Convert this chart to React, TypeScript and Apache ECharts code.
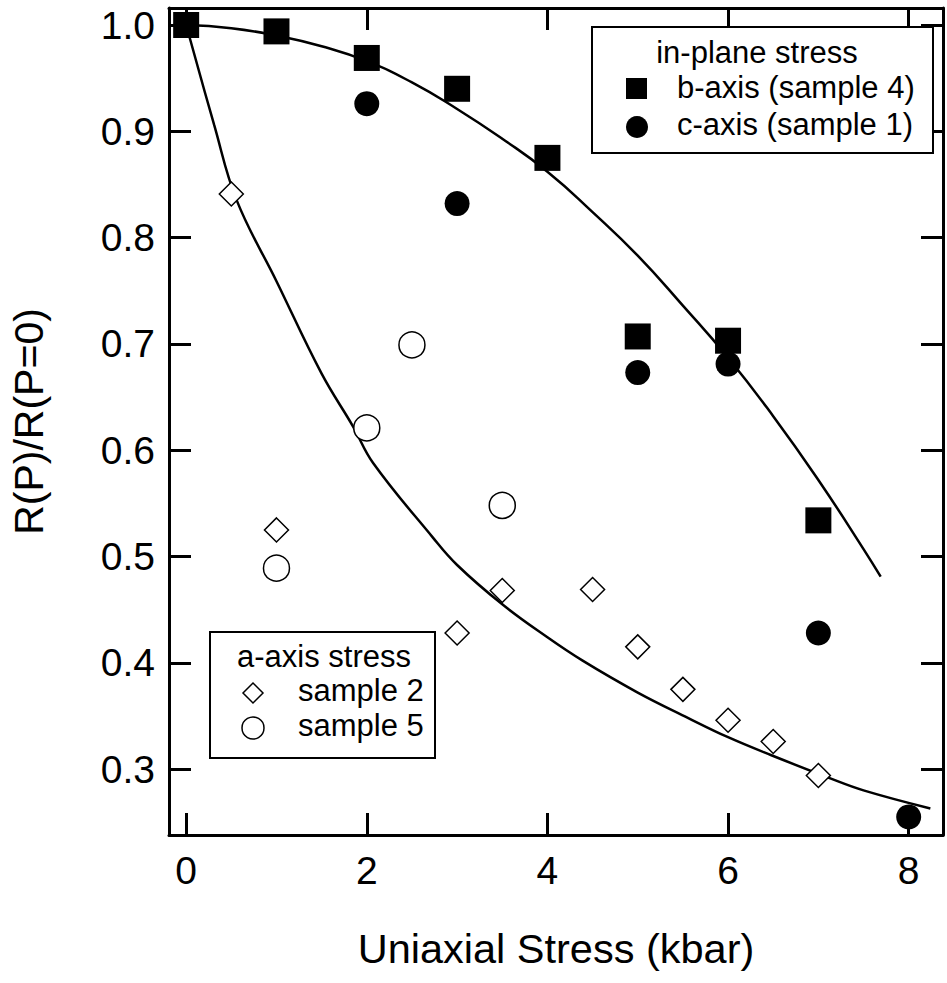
import React, { useEffect, useRef } from "react";
import * as echarts from "echarts";

// Tick values
const xTicks = [0, 2, 4, 6, 8];
const yTicks = [0.3, 0.4, 0.5, 0.6, 0.7, 0.8, 0.9, 1.0];

// in-plane stress: b-axis (sample 4), filled squares
const bAxisX = [0, 1, 2, 3, 4, 5, 6, 7];
const bAxisY = [1.0, 0.994, 0.969, 0.94, 0.875, 0.707, 0.703, 0.534];

// in-plane stress: c-axis (sample 1), filled circles
const cAxisX = [0, 2, 3, 5, 6, 7, 8];
const cAxisY = [1.0, 0.926, 0.832, 0.673, 0.681, 0.428, 0.255];

// a-axis stress: sample 2, open diamonds
const sample2X = [0.5, 1, 3, 3.5, 4.5, 5, 5.5, 6, 6.5, 7];
const sample2Y = [0.841, 0.525, 0.428, 0.468, 0.469, 0.415, 0.375, 0.346, 0.326, 0.294];

// a-axis stress: sample 5, open circles
const sample5X = [1, 2, 2.5, 3.5];
const sample5Y = [0.489, 0.621, 0.699, 0.548];

// guide curves
const inPlaneFitX = [0, 0.5, 1, 1.5, 2, 2.5, 3, 3.5, 4, 4.5, 5, 5.5, 6, 6.5, 7, 7.5, 7.69];
const inPlaneFitY = [1.0, 0.997, 0.99, 0.98, 0.966, 0.946, 0.921, 0.893, 0.862, 0.824, 0.783, 0.736, 0.687, 0.632, 0.572, 0.507, 0.481];

const aAxisFitX = [0, 0.31, 0.56, 1, 1.5, 1.85, 2.07, 2.73, 3, 3.5, 4, 4.39, 5, 5.56, 6, 6.48, 7.11, 7.5, 8.24];
const aAxisFitY = [1.0, 0.906, 0.835, 0.759, 0.672, 0.622, 0.588, 0.518, 0.492, 0.455, 0.424, 0.402, 0.372, 0.348, 0.33, 0.313, 0.292, 0.28, 0.263];

const zip = (xs: number[], ys: number[]) => xs.map((x, i) => [x, ys[i]]);

const FONT = "'Liberation Sans', Arial, Helvetica, sans-serif";

export default function App() {
  const ref = useRef<HTMLDivElement>(null);
  useEffect(() => {
    document.body.style.margin = "0";
    const chart = echarts.init(ref.current!, null, { renderer: "svg" });
    const axisLine = { show: true, onZero: false, lineStyle: { color: "#000", width: 3 } };
    const xTick = { show: true, inside: true, length: 22, lineStyle: { color: "#000", width: 3 }, customValues: xTicks };
    const yTick = { show: true, inside: true, length: 22, lineStyle: { color: "#000", width: 3 }, customValues: yTicks };
    const xMin = -0.19, xMax = 8.38, yMin = 0.238, yMax = 1.016;
    chart.setOption({
      animation: false,
      backgroundColor: "#fff",
      grid: { left: 165, top: 8, width: 778, height: 827, containLabel: false },
      xAxis: [
        {
          type: "value", position: "bottom", min: xMin, max: xMax, splitNumber: 4,
          axisLine, axisTick: xTick, splitLine: { show: false },
          axisLabel: { customValues: xTicks, fontSize: 39, color: "#000", fontFamily: FONT, margin: 16 },
          name: "Uniaxial Stress (kbar)", nameLocation: "middle", nameGap: 92,
          nameTextStyle: { fontSize: 41.5, color: "#000", fontFamily: FONT },
        },
        {
          type: "value", position: "top", min: xMin, max: xMax, splitNumber: 4,
          axisLine, axisTick: xTick, splitLine: { show: false }, axisLabel: { show: false },
        },
      ],
      yAxis: [
        {
          type: "value", position: "left", min: yMin, max: yMax, splitNumber: 7,
          axisLine, axisTick: yTick, splitLine: { show: false },
          axisLabel: { customValues: yTicks, fontSize: 39, color: "#000", fontFamily: FONT, margin: 14,
            formatter: (v: number) => v.toFixed(1) },
          name: "R(P)/R(P=0)", nameLocation: "middle", nameGap: 120, nameRotate: 90,
          nameTextStyle: { fontSize: 41, color: "#000", fontFamily: FONT },
        },
        {
          type: "value", position: "right", min: yMin, max: yMax, splitNumber: 7,
          axisLine, axisTick: yTick, splitLine: { show: false }, axisLabel: { show: false },
        },
      ],
      series: [
        {
          type: "line", data: zip(inPlaneFitX, inPlaneFitY), symbol: "none", smooth: 0.5,
          lineStyle: { color: "#000", width: 2.5 }, z: 2,
        },
        {
          type: "line", data: zip(aAxisFitX, aAxisFitY), symbol: "none", smooth: 0.4,
          lineStyle: { color: "#000", width: 2.5 }, z: 2,
        },
        {
          name: "c-axis (sample 1)", type: "scatter", data: zip(cAxisX, cAxisY), symbol: "circle", symbolSize: 25,
          itemStyle: { color: "#000", opacity: 1 }, z: 3,
        },
        {
          name: "b-axis (sample 4)", type: "scatter", data: zip(bAxisX, bAxisY), symbol: "rect", symbolSize: 26,
          itemStyle: { color: "#000", opacity: 1 }, z: 4,
        },
        {
          name: "sample 2", type: "scatter", data: zip(sample2X, sample2Y), symbol: "diamond", symbolSize: 24,
          itemStyle: { color: "#fff", borderColor: "#000", borderWidth: 1.5, opacity: 1 }, z: 3,
        },
        {
          name: "sample 5", type: "scatter", data: zip(sample5X, sample5Y), symbol: "circle", symbolSize: 26,
          itemStyle: { color: "#fff", borderColor: "#000", borderWidth: 1.5, opacity: 1 }, z: 3,
        },
      ],
      graphic: [
        // in-plane legend
        { type: "rect", z: 100, shape: { x: 592, y: 27, width: 341, height: 126 },
          style: { fill: "#fff", stroke: "#000", lineWidth: 2 } },
        { type: "text", z: 101, x: 757, y: 52,
          style: { text: "in-plane stress", font: `31px ${FONT}`, fill: "#000", align: "center", verticalAlign: "middle" } },
        { type: "rect", z: 101, shape: { x: 626, y: 78, width: 21, height: 21 }, style: { fill: "#000" } },
        { type: "text", z: 101, x: 677, y: 87,
          style: { text: "b-axis (sample 4)", font: `31px ${FONT}`, fill: "#000", align: "left", verticalAlign: "middle" } },
        { type: "circle", z: 101, shape: { cx: 637, cy: 127, r: 11 }, style: { fill: "#000" } },
        { type: "text", z: 101, x: 677, y: 124,
          style: { text: "c-axis (sample 1)", font: `31px ${FONT}`, fill: "#000", align: "left", verticalAlign: "middle" } },
        // a-axis legend
        { type: "rect", z: 100, shape: { x: 210, y: 632, width: 225, height: 126 },
          style: { fill: "#fff", stroke: "#000", lineWidth: 2 } },
        { type: "text", z: 101, x: 324, y: 656,
          style: { text: "a-axis stress", font: `31px ${FONT}`, fill: "#000", align: "center", verticalAlign: "middle" } },
        { type: "polygon", z: 101, shape: { points: [[253, 683], [263, 693], [253, 703], [243, 693]] },
          style: { fill: "#fff", stroke: "#000", lineWidth: 1.5 } },
        { type: "text", z: 101, x: 298, y: 690,
          style: { text: "sample 2", font: `31px ${FONT}`, fill: "#000", align: "left", verticalAlign: "middle" } },
        { type: "circle", z: 101, shape: { cx: 253, cy: 728, r: 11 },
          style: { fill: "#fff", stroke: "#000", lineWidth: 1.5 } },
        { type: "text", z: 101, x: 298, y: 725,
          style: { text: "sample 5", font: `31px ${FONT}`, fill: "#000", align: "left", verticalAlign: "middle" } },
      ],
    });
    return () => chart.dispose();
  }, []);
  return <div ref={ref} style={{ width: 947, height: 983 }} />;
}
